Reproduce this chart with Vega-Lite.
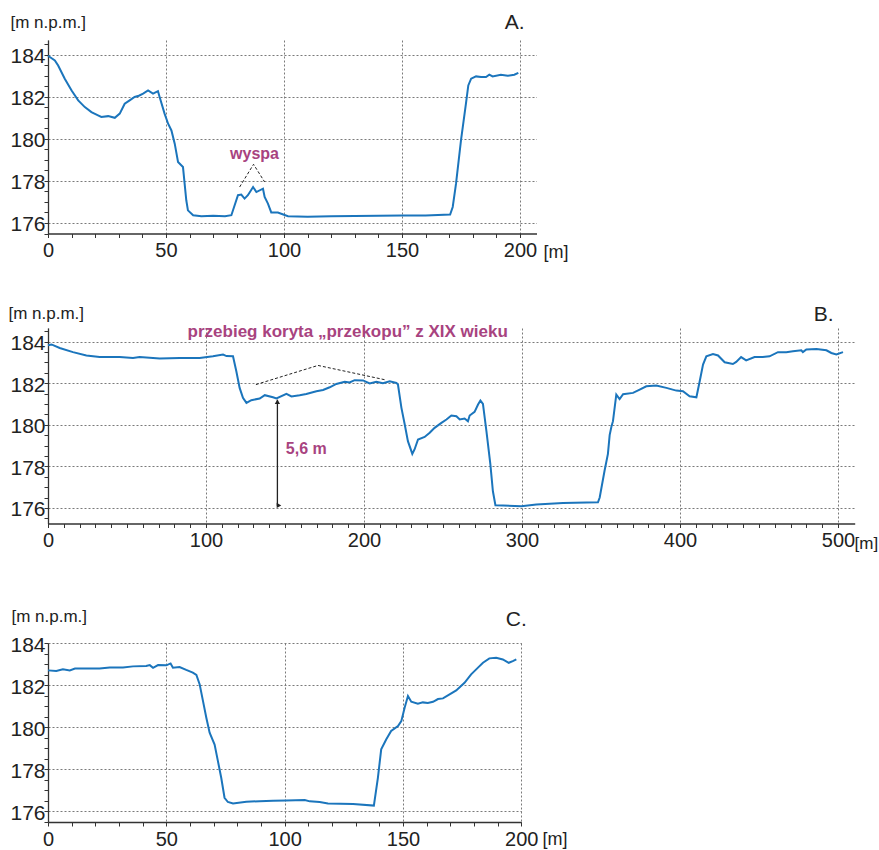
{
  "$schema": "https://vega.github.io/schema/vega-lite/v6.json",
  "padding": {"left": 8, "top": 11, "right": 0, "bottom": 0},
  "config": {
    "view": {"stroke": null},
    "font": "Liberation Sans",
    "axis": {
      "domainColor": "#333333", "domainWidth": 1.3,
      "tickColor": "#333333", "tickSize": 4, "tickWidth": 1,
      "labelFont": "Liberation Sans", "labelFontSize": 21, "labelColor": "#222222",
      "labelFlush": false, "labelOverlap": false,
      "titleFont": "Liberation Sans", "titleFontSize": 17, "titleFontWeight": "normal", "titleColor": "#222222",
      "gridColor": "#7a7a7a", "gridDash": [2, 2], "gridWidth": 1
    },
    "axisX": {"labelPadding": 3, "labelFontSize": 20},
    "axisY": {"labelPadding": -1, "labelOffset": 2}
  },
  "datasets": {
    "A": [
      {"x":0,"y":183.95},{"x":2.9,"y":183.73},{"x":4.3,"y":183.49},{"x":7.1,"y":182.86},{"x":10,"y":182.3},{"x":12.8,"y":181.83},{"x":15.6,"y":181.51},{"x":18.4,"y":181.27},{"x":21.2,"y":181.12},{"x":22.6,"y":181.04},{"x":25.5,"y":181.08},{"x":28.3,"y":181.0},{"x":30.4,"y":181.2},{"x":32.5,"y":181.67},{"x":34.6,"y":181.83},{"x":36.7,"y":181.99},{"x":38.5,"y":182.05},{"x":40.3,"y":182.15},{"x":42.4,"y":182.3},{"x":44.5,"y":182.15},{"x":46.6,"y":182.27},{"x":47.3,"y":181.99},{"x":49.4,"y":181.2},{"x":50.9,"y":180.72},{"x":52.3,"y":180.4},{"x":53.7,"y":179.77},{"x":55.1,"y":178.9},{"x":57.2,"y":178.66},{"x":58.6,"y":177.08},{"x":59.3,"y":176.6},{"x":61.5,"y":176.37},{"x":65,"y":176.32},{"x":70,"y":176.34},{"x":75,"y":176.32},{"x":77.7,"y":176.37},{"x":80.5,"y":177.32},{"x":81.9,"y":177.35},{"x":83.3,"y":177.16},{"x":84.7,"y":177.32},{"x":86.9,"y":177.71},{"x":88.3,"y":177.47},{"x":91.1,"y":177.63},{"x":91.8,"y":177.24},{"x":93.2,"y":176.92},{"x":94.6,"y":176.5},{"x":97.4,"y":176.5},{"x":101.7,"y":176.32},{"x":110,"y":176.3},{"x":120,"y":176.32},{"x":130,"y":176.33},{"x":140,"y":176.34},{"x":150,"y":176.35},{"x":160,"y":176.36},{"x":170.4,"y":176.4},{"x":171.5,"y":176.76},{"x":172.9,"y":177.87},{"x":175.0,"y":179.93},{"x":177.1,"y":181.67},{"x":178.1,"y":182.54},{"x":179.3,"y":182.86},{"x":181.4,"y":182.97},{"x":183.5,"y":182.94},{"x":185.6,"y":182.94},{"x":187.0,"y":183.05},{"x":188.4,"y":182.97},{"x":191.9,"y":183.05},{"x":194.8,"y":183.0},{"x":197.6,"y":183.05},{"x":199.3,"y":183.14}
    ],
    "B": [
      {"x":0,"y":183.82},{"x":2.2,"y":183.86},{"x":7.4,"y":183.69},{"x":15.8,"y":183.49},{"x":24.3,"y":183.33},{"x":32.7,"y":183.26},{"x":45.4,"y":183.25},{"x":53.8,"y":183.21},{"x":58,"y":183.25},{"x":70.7,"y":183.18},{"x":83.4,"y":183.21},{"x":96,"y":183.21},{"x":104.4,"y":183.29},{"x":110.8,"y":183.37},{"x":113,"y":183.3},{"x":117.1,"y":183.29},{"x":119.2,"y":182.57},{"x":121.3,"y":181.77},{"x":123.4,"y":181.29},{"x":125.6,"y":181.05},{"x":128.7,"y":181.18},{"x":134,"y":181.26},{"x":137.2,"y":181.42},{"x":142.4,"y":181.32},{"x":144.6,"y":181.26},{"x":150.9,"y":181.48},{"x":154.1,"y":181.36},{"x":159.3,"y":181.42},{"x":163.5,"y":181.48},{"x":169.9,"y":181.61},{"x":174.1,"y":181.67},{"x":178.3,"y":181.8},{"x":182.5,"y":181.96},{"x":187.8,"y":182.06},{"x":190.9,"y":182.03},{"x":194.1,"y":182.14},{"x":199.4,"y":182.13},{"x":203.6,"y":181.98},{"x":207.8,"y":182.06},{"x":212,"y":182.0},{"x":216.3,"y":182.09},{"x":220.5,"y":182.01},{"x":221.5,"y":181.93},{"x":223.7,"y":180.81},{"x":225.8,"y":180.01},{"x":227.8,"y":179.21},{"x":230.6,"y":178.6},{"x":232,"y":178.81},{"x":234.2,"y":179.29},{"x":238.4,"y":179.41},{"x":241.6,"y":179.61},{"x":244.7,"y":179.85},{"x":249,"y":180.09},{"x":252.2,"y":180.25},{"x":255.3,"y":180.44},{"x":258.5,"y":180.41},{"x":260.6,"y":180.25},{"x":263.7,"y":180.3},{"x":265.8,"y":180.17},{"x":266.9,"y":180.44},{"x":270,"y":180.62},{"x":272.2,"y":180.97},{"x":273.7,"y":181.16},{"x":275.3,"y":181.0},{"x":277.5,"y":179.69},{"x":280,"y":178.09},{"x":281.6,"y":176.8},{"x":283.2,"y":176.13},{"x":288,"y":176.12},{"x":299.6,"y":176.08},{"x":309.1,"y":176.16},{"x":326,"y":176.24},{"x":348.1,"y":176.27},{"x":349.2,"y":176.5},{"x":352.3,"y":177.8},{"x":354.4,"y":178.6},{"x":355.5,"y":179.5},{"x":356.6,"y":179.9},{"x":357.6,"y":180.17},{"x":359.7,"y":181.45},{"x":361.8,"y":181.23},{"x":364,"y":181.47},{"x":370.3,"y":181.53},{"x":374.5,"y":181.69},{"x":378.7,"y":181.85},{"x":385,"y":181.88},{"x":391.4,"y":181.77},{"x":397.7,"y":181.64},{"x":401.9,"y":181.61},{"x":406.1,"y":181.37},{"x":410.4,"y":181.32},{"x":412.5,"y":182.09},{"x":414.6,"y":182.89},{"x":416.7,"y":183.29},{"x":420.9,"y":183.4},{"x":424.1,"y":183.33},{"x":428.3,"y":183.0},{"x":433.5,"y":182.92},{"x":435.6,"y":183.02},{"x":438.7,"y":183.25},{"x":441.9,"y":183.09},{"x":447.2,"y":183.25},{"x":452.4,"y":183.25},{"x":456.7,"y":183.29},{"x":462,"y":183.49},{"x":467.3,"y":183.49},{"x":471.5,"y":183.53},{"x":476.8,"y":183.58},{"x":477.8,"y":183.49},{"x":480,"y":183.62},{"x":486.4,"y":183.64},{"x":492.7,"y":183.58},{"x":495.8,"y":183.45},{"x":499,"y":183.38},{"x":503.2,"y":183.49}
    ],
    "C": [
      {"x":0,"y":182.7},{"x":3.5,"y":182.67},{"x":6.3,"y":182.75},{"x":9.2,"y":182.7},{"x":11.4,"y":182.79},{"x":14.8,"y":182.79},{"x":21.8,"y":182.79},{"x":26.1,"y":182.84},{"x":31.7,"y":182.84},{"x":35.9,"y":182.89},{"x":41.5,"y":182.91},{"x":43,"y":182.95},{"x":44.4,"y":182.82},{"x":46.5,"y":182.95},{"x":50,"y":182.94},{"x":51.8,"y":183.03},{"x":52.8,"y":182.83},{"x":55.6,"y":182.86},{"x":58.4,"y":182.72},{"x":61.2,"y":182.59},{"x":62.7,"y":182.48},{"x":64.1,"y":182.03},{"x":65.5,"y":181.24},{"x":66.9,"y":180.45},{"x":68.3,"y":179.74},{"x":70.4,"y":179.18},{"x":71.8,"y":178.39},{"x":73.2,"y":177.6},{"x":74.6,"y":176.65},{"x":76,"y":176.45},{"x":78.2,"y":176.38},{"x":83.8,"y":176.46},{"x":89.4,"y":176.49},{"x":95.1,"y":176.51},{"x":100.7,"y":176.52},{"x":108.5,"y":176.54},{"x":110.6,"y":176.48},{"x":114.8,"y":176.45},{"x":118.3,"y":176.38},{"x":128.9,"y":176.35},{"x":137.7,"y":176.28},{"x":139.4,"y":177.6},{"x":140.8,"y":178.95},{"x":142.9,"y":179.42},{"x":145,"y":179.82},{"x":147.9,"y":180.06},{"x":149.3,"y":180.29},{"x":150.7,"y":180.93},{"x":152.1,"y":181.48},{"x":153.5,"y":181.21},{"x":156.3,"y":181.12},{"x":158.4,"y":181.18},{"x":160.5,"y":181.15},{"x":162.7,"y":181.21},{"x":164.8,"y":181.34},{"x":166.9,"y":181.37},{"x":169.7,"y":181.56},{"x":172.5,"y":181.75},{"x":176,"y":182.11},{"x":178.8,"y":182.51},{"x":181.7,"y":182.83},{"x":183.8,"y":183.06},{"x":186.5,"y":183.27},{"x":189.4,"y":183.3},{"x":192.2,"y":183.22},{"x":194.7,"y":183.06},{"x":196.4,"y":183.14},{"x":197.9,"y":183.22}
    ]
  },
  "spacing": 55,
  "vconcat": [
    {
      "spacing": 41,
      "vconcat": [
        {
          "width": 488.5, "height": 193.5,
          "encoding": {
            "x": {"field": "x", "type": "quantitative",
              "scale": {"domain": [0, 207], "nice": false, "zero": false},
              "axis": {"values": [0,10,20,30,40,50,60,70,80,90,100,110,120,130,140,150,160,170,180,190,200],
                "labelExpr": "datum.value % 50 === 0 ? format(datum.value, 'd') : ''",
                "gridOpacity": {"condition": {"test": "datum.value % 50 === 0", "value": 1}, "value": 0},
                "title": "[m]", "titleX": 495, "titleY": 24, "titleAlign": "left", "titleBaseline": "alphabetic", "titleFontSize": 18}},
            "y": {"field": "y", "type": "quantitative",
              "scale": {"domain": [175.5, 184.7], "nice": false, "zero": false},
              "axis": {"values": [175.5,176,176.5,177,177.5,178,178.5,179,179.5,180,180.5,181,181.5,182,182.5,183,183.5,184,184.5],
                "labelExpr": "datum.value % 2 === 0 ? format(datum.value, 'd') : ''",
                "gridOpacity": {"condition": {"test": "datum.value % 2 === 0", "value": 1}, "value": 0},
                "title": "[m n.p.m.]", "titleAngle": 0, "titleX": -38, "titleY": -13, "titleAlign": "left", "titleBaseline": "alphabetic"}}
          },
          "layer": [
            {"data": {"name": "A"}, "mark": {"type": "line", "color": "#1b75bc", "strokeWidth": 2}, "encoding": {}},
            {"data": {"values": [{"x": 81.2, "y": 177.71}, {"x": 87.1, "y": 178.79}, {"x": 91.8, "y": 177.95}]},
              "mark": {"type": "line", "color": "#222222", "strokeWidth": 1, "strokeDash": [3, 2]}, "encoding": {}},
            {"data": {"values": [{"x": 87.5, "y": 179.3, "t": "wyspa"}]},
              "mark": {"type": "text", "fontSize": 16, "fontWeight": "bold", "color": "#a8437f"},
              "encoding": {"text": {"field": "t"}}},
            {"data": {"values": [{"x": 197.7, "y": 185.51, "t": "A."}]},
              "mark": {"type": "text", "fontSize": 21, "color": "#222222"},
              "encoding": {"text": {"field": "t"}}}
          ]
        },
        {
          "width": 806.7, "height": 195.5,
          "encoding": {
            "x": {"field": "x", "type": "quantitative",
              "scale": {"domain": [0, 510.6], "nice": false, "zero": false},
              "axis": {"values": [0,10,20,30,40,50,60,70,80,90,100,110,120,130,140,150,160,170,180,190,200,210,220,230,240,250,260,270,280,290,300,310,320,330,340,350,360,370,380,390,400,410,420,430,440,450,460,470,480,490,500],
                "labelExpr": "datum.value % 100 === 0 ? format(datum.value, 'd') : ''",
                "gridOpacity": {"condition": {"test": "datum.value % 100 === 0", "value": 1}, "value": 0},
                "title": "[m]", "titleX": 806, "titleY": 25, "titleAlign": "left", "titleBaseline": "alphabetic", "titleFontSize": 17}},
            "y": {"field": "y", "type": "quantitative",
              "scale": {"domain": [175.25, 184.65], "nice": false, "zero": false},
              "axis": {"values": [175.5,176,176.5,177,177.5,178,178.5,179,179.5,180,180.5,181,181.5,182,182.5,183,183.5,184,184.5],
                "labelExpr": "datum.value % 2 === 0 ? format(datum.value, 'd') : ''",
                "gridOpacity": {"condition": {"test": "datum.value % 2 === 0", "value": 1}, "value": 0},
                "title": "[m n.p.m.]", "titleAngle": 0, "titleX": -40, "titleY": -10, "titleAlign": "left", "titleBaseline": "alphabetic"}}
          },
          "layer": [
            {"data": {"name": "B"}, "mark": {"type": "line", "color": "#1b75bc", "strokeWidth": 2}, "encoding": {}},
            {"data": {"values": [{"x": 131.6, "y": 181.93}, {"x": 170.9, "y": 182.85}, {"x": 214, "y": 182.15}]},
              "mark": {"type": "line", "color": "#222222", "strokeWidth": 1, "strokeDash": [3, 2]}, "encoding": {}},
            {"data": {"values": [{"x": 145.2, "y": 181.2, "y2": 176.1}]},
              "mark": {"type": "rule", "color": "#222222", "strokeWidth": 1.3},
              "encoding": {"y2": {"field": "y2"}}},
            {"data": {"values": [{"x": 145.2, "y": 181.1, "s": "triangle-up"}, {"x": 146.2, "y": 176.12, "s": "triangle-right"}]},
              "mark": {"type": "point", "filled": true, "color": "#222222", "size": 28, "opacity": 1},
              "encoding": {"shape": {"field": "s", "type": "nominal", "scale": null}}},
            {"data": {"values": [{"x": 189.7, "y": 184.45, "t": "przebieg koryta „przekopu” z XIX wieku"}]},
              "mark": {"type": "text", "fontSize": 17, "fontWeight": "bold", "color": "#a8437f"},
              "encoding": {"text": {"field": "t"}}},
            {"data": {"values": [{"x": 163.5, "y": 178.81, "t": "5,6 m"}]},
              "mark": {"type": "text", "fontSize": 16, "fontWeight": "bold", "color": "#a8437f"},
              "encoding": {"text": {"field": "t"}}},
            {"data": {"values": [{"x": 490.9, "y": 185.29, "t": "B."}]},
              "mark": {"type": "text", "fontSize": 21, "color": "#222222"},
              "encoding": {"text": {"field": "t"}}}
          ]
        }
      ]
    },
    {
      "width": 473.3, "height": 179,
      "encoding": {
        "x": {"field": "x", "type": "quantitative",
          "scale": {"domain": [0, 200], "nice": false, "zero": false},
          "axis": {"values": [0,10,20,30,40,50,60,70,80,90,100,110,120,130,140,150,160,170,180,190,200],
            "labelExpr": "datum.value % 50 === 0 ? format(datum.value, 'd') : ''",
            "gridOpacity": {"condition": {"test": "datum.value % 50 === 0", "value": 1}, "value": 0},
            "title": "[m]", "titleX": 494, "titleY": 22, "titleAlign": "left", "titleBaseline": "alphabetic", "titleFontSize": 18}},
        "y": {"field": "y", "type": "quantitative",
          "scale": {"domain": [175.5, 184], "nice": false, "zero": false},
          "axis": {"values": [175.5,176,176.5,177,177.5,178,178.5,179,179.5,180,180.5,181,181.5,182,182.5,183,183.5,184],
            "labelExpr": "datum.value % 2 === 0 ? format(datum.value, 'd') : ''",
            "gridOpacity": {"condition": {"test": "datum.value % 2 === 0", "value": 1}, "value": 0},
            "title": "[m n.p.m.]", "titleAngle": 0, "titleX": -37, "titleY": -22, "titleAlign": "left", "titleBaseline": "alphabetic"}}
      },
      "layer": [
        {"data": {"name": "C"}, "mark": {"type": "line", "color": "#1b75bc", "strokeWidth": 2}, "encoding": {}},
        {"data": {"values": [{"x": 197.9, "y": 185.11, "t": "C."}]},
          "mark": {"type": "text", "fontSize": 21, "color": "#222222"},
          "encoding": {"text": {"field": "t"}}}
      ]
    }
  ]
}
